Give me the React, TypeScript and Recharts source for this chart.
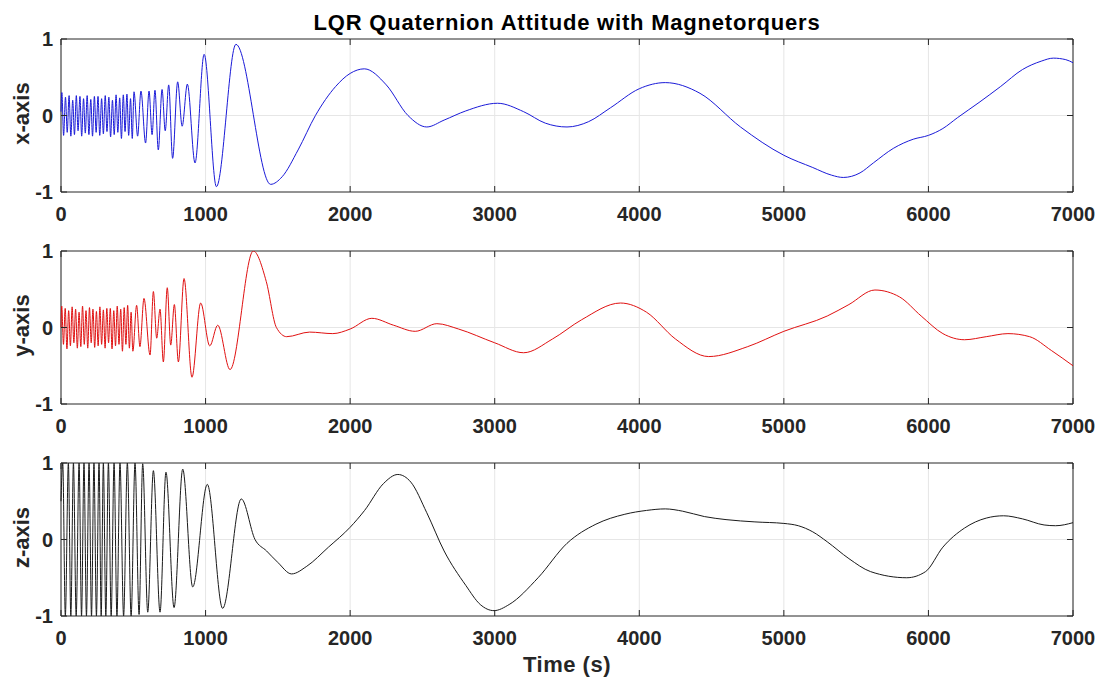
import React from "react";
import {
  LineChart,
  Line,
  XAxis,
  YAxis,
  CartesianGrid,
  ReferenceArea,
} from "recharts";

// time axis ticks (s) and quaternion component ticks
const timeTicks = [0, 1000, 2000, 3000, 4000, 5000, 6000, 7000];
const levelTicks = [-1, 0, 1];

// [time (s), value] turning points of each quaternion component
const qxPoints: [number, number][] = [
  [0, 0.05], [6, 0.3], [18, -0.26], [31, 0.24], [43, -0.22], [56, 0.26],
  [68, -0.27], [81, 0.2], [93, -0.25], [106, 0.26], [118, -0.2], [131, 0.25],
  [143, -0.27], [156, 0.22], [168, -0.23], [181, 0.26], [193, -0.25], [206, 0.21],
  [218, -0.27], [231, 0.25], [243, -0.22], [256, 0.25], [268, -0.26], [281, 0.22],
  [293, -0.24], [306, 0.26], [318, -0.21], [331, 0.24], [343, -0.28], [356, 0.2],
  [368, -0.25], [381, 0.27], [393, -0.22], [406, 0.23], [418, -0.3], [431, 0.27],
  [443, -0.21], [456, 0.28], [468, -0.26], [481, 0.22], [493, -0.3], [505, 0.31],
  [530, -0.27], [553, 0.32], [585, -0.36], [609, 0.32], [630, -0.25], [650, 0.33],
  [673, -0.45], [699, 0.34], [721, -0.2], [745, 0.4], [772, -0.56], [807, 0.44],
  [838, -0.14], [874, 0.41], [927, -0.62], [990, 0.8], [1075, -0.93], [1210, 0.93],
  [1450, -0.9], [1530, -0.8], [1640, -0.45], [1760, 0.0], [1900, 0.38], [2000, 0.55],
  [2098, 0.61], [2250, 0.4], [2400, 0.0], [2530, -0.15], [2650, -0.06], [2800, 0.06],
  [3020, 0.16], [3200, 0.05], [3350, -0.1], [3500, -0.15], [3650, -0.08], [3800, 0.1],
  [4000, 0.35], [4180, 0.43], [4420, 0.29], [4700, -0.15], [5000, -0.52], [5200, -0.68],
  [5330, -0.78], [5411, -0.81], [5527, -0.75], [5619, -0.62], [5757, -0.43], [5895, -0.31],
  [6000, -0.26], [6100, -0.17], [6200, -0.03], [6350, 0.17], [6500, 0.38], [6650, 0.6],
  [6780, 0.71], [6864, 0.75], [6950, 0.73], [7000, 0.69],
];

const qyPoints: [number, number][] = [
  [0, 0.0], [5, 0.28], [17, -0.22], [29, 0.25], [41, -0.28], [53, 0.22],
  [65, -0.24], [77, 0.27], [89, -0.2], [101, 0.24], [113, -0.27], [125, 0.2],
  [137, -0.25], [149, 0.28], [161, -0.22], [173, 0.22], [185, -0.27], [197, 0.26],
  [209, -0.2], [221, 0.24], [233, -0.26], [245, 0.21], [257, -0.24], [269, 0.27],
  [281, -0.22], [293, 0.23], [305, -0.27], [317, 0.25], [329, -0.2], [341, 0.25],
  [353, -0.28], [365, 0.22], [377, -0.24], [389, 0.28], [401, -0.22], [413, 0.24],
  [425, -0.31], [437, 0.26], [449, -0.22], [461, 0.29], [473, -0.27], [485, 0.2],
  [497, -0.31], [523, 0.29], [546, -0.25], [574, 0.38], [616, -0.36], [639, 0.47],
  [662, -0.14], [685, 0.24], [708, -0.45], [735, 0.52], [759, -0.23], [784, 0.3],
  [812, -0.45], [851, 0.64], [906, -0.65], [966, 0.32], [1029, -0.24], [1084, 0.03],
  [1169, -0.55], [1330, 1.0], [1420, 0.6], [1490, 0.0], [1561, -0.12], [1720, -0.06],
  [1880, -0.08], [2000, -0.02], [2150, 0.12], [2300, 0.03], [2450, -0.05], [2600, 0.05],
  [2750, -0.02], [3000, -0.2], [3200, -0.33], [3400, -0.15], [3600, 0.1], [3870, 0.32],
  [4050, 0.2], [4250, -0.15], [4480, -0.38], [4750, -0.25], [5000, -0.05], [5300, 0.15],
  [5450, 0.3], [5630, 0.49], [5800, 0.4], [5950, 0.15], [6100, -0.08], [6250, -0.16],
  [6400, -0.12], [6550, -0.08], [6700, -0.12], [6850, -0.3], [7000, -0.5],
];

const qzPoints: [number, number][] = [
  [0, 0.5], [12, 1.0], [30, -1.0], [51, 1.0], [68, -1.0], [86, 1.0],
  [105, -1.0], [125, 1.0], [142, -1.0], [159, 1.0], [176, -1.0], [194, 1.0],
  [211, -1.0], [228, 1.0], [245, -1.0], [263, 1.0], [278, -1.0], [293, 1.0],
  [310, -1.0], [328, 1.0], [347, -1.0], [367, 1.0], [387, -1.0], [408, 1.0],
  [433, -1.0], [459, 1.0], [485, -1.0], [512, 1.0], [540, -0.98], [565, 0.99],
  [600, -0.95], [639, 0.9], [685, -0.95], [726, 0.88], [782, -0.89], [842, 0.92],
  [911, -0.62], [1012, 0.72], [1118, -0.9], [1247, 0.53], [1342, 0.0], [1422, -0.15],
  [1500, -0.3], [1595, -0.45], [1700, -0.35], [1850, -0.1], [2000, 0.16], [2100, 0.38],
  [2230, 0.73], [2330, 0.85], [2420, 0.75], [2530, 0.35], [2650, -0.15], [2800, -0.6],
  [2900, -0.85], [2995, -0.93], [3100, -0.85], [3300, -0.5], [3500, -0.05], [3700, 0.2],
  [3900, 0.33], [4050, 0.38], [4180, 0.4], [4300, 0.37], [4450, 0.3], [4600, 0.26],
  [4800, 0.23], [5000, 0.21], [5100, 0.18], [5200, 0.1], [5300, -0.03], [5450, -0.25],
  [5600, -0.42], [5850, -0.5], [5980, -0.42], [6100, -0.1], [6250, 0.15], [6400, 0.28],
  [6520, 0.31], [6650, 0.27], [6800, 0.19], [6880, 0.18], [7000, 0.22],
];

const W = 1106;
const H = 683;
const PLOT_LEFT = 61;
const PLOT_RIGHT = 1073;
const PLOT_H = 153;
const PAD_TOP = 10;
const CHART_H = 230;
const X_AXIS_H = 30;
const Y_AXIS_W = 50;
const INK = "#262626";
const FONT = "'Liberation Sans', Arial, Helvetica, sans-serif";

const toRows = (pts: [number, number][]) => pts.map(([t, v]) => ({ t, v }));

interface PanelProps {
  top: number;
  points: [number, number][];
  color: string;
}

function Panel({ top, points, color }: PanelProps) {
  const bottom = PAD_TOP + PLOT_H;

  const renderXTick = (props: any) => {
    const { x, payload } = props;
    return (
      <g>
        <line x1={x} x2={x} y1={bottom} y2={bottom - 6} stroke={INK} />
        <line x1={x} x2={x} y1={PAD_TOP} y2={PAD_TOP + 6} stroke={INK} />
        <text
          x={x}
          y={bottom + 29}
          textAnchor="middle"
          fill={INK}
          fontSize={20}
          fontWeight="bold"
          fontFamily={FONT}
        >
          {payload.value}
        </text>
      </g>
    );
  };

  const renderYTick = (props: any) => {
    const { y, payload } = props;
    return (
      <g>
        <line x1={PLOT_LEFT} x2={PLOT_LEFT + 6} y1={y} y2={y} stroke={INK} />
        <line x1={PLOT_RIGHT} x2={PLOT_RIGHT - 6} y1={y} y2={y} stroke={INK} />
        <text
          x={PLOT_LEFT - 8}
          y={y + 7}
          textAnchor="end"
          fill={INK}
          fontSize={20}
          fontWeight="bold"
          fontFamily={FONT}
        >
          {payload.value}
        </text>
      </g>
    );
  };

  return (
    <div style={{ position: "absolute", left: 0, top: top - PAD_TOP }}>
      <LineChart
        width={W}
        height={CHART_H}
        data={toRows(points)}
        margin={{
          top: PAD_TOP,
          right: W - PLOT_RIGHT,
          bottom: CHART_H - PAD_TOP - PLOT_H - X_AXIS_H,
          left: PLOT_LEFT - Y_AXIS_W,
        }}
      >
        <CartesianGrid
          stroke="#e6e6e6"
          horizontalValues={[0]}
          verticalValues={timeTicks}
        />
        <XAxis
          type="number"
          dataKey="t"
          domain={[0, 7000]}
          ticks={timeTicks}
          interval={0}
          height={X_AXIS_H}
          axisLine={false}
          tickLine={false}
          tick={renderXTick}
        />
        <YAxis
          type="number"
          domain={[-1, 1]}
          ticks={levelTicks}
          interval={0}
          width={Y_AXIS_W}
          axisLine={false}
          tickLine={false}
          tick={renderYTick}
          allowDataOverflow
        />
        <ReferenceArea
          x1={0}
          x2={7000}
          y1={-1}
          y2={1}
          fill="none"
          stroke={INK}
          strokeWidth={1}
          ifOverflow="visible"
        />
        <Line
          type="monotone"
          dataKey="v"
          stroke={color}
          strokeWidth={1}
          dot={false}
          isAnimationActive={false}
        />
      </LineChart>
    </div>
  );
}

const panels = [
  { top: 39, label: "x-axis", points: qxPoints, color: "#1a1ad8" },
  { top: 251, label: "y-axis", points: qyPoints, color: "#e01010" },
  { top: 463, label: "z-axis", points: qzPoints, color: "#1a1a1a" },
];

export default function App() {
  return (
    <div
      style={{
        position: "absolute",
        left: 0,
        top: 0,
        width: W,
        height: H,
        background: "#fff",
        overflow: "hidden",
      }}
    >
      {panels.map((p) => (
        <Panel key={p.label} top={p.top} points={p.points} color={p.color} />
      ))}
      <svg
        width={W}
        height={H}
        style={{ position: "absolute", left: 0, top: 0, pointerEvents: "none" }}
      >
        <text
          x={(PLOT_LEFT + PLOT_RIGHT) / 2}
          y={30}
          textAnchor="middle"
          fill="#000"
          fontSize={22}
          fontWeight="bold"
          letterSpacing={0.8}
          fontFamily={FONT}
        >
          LQR Quaternion Attitude with Magnetorquers
        </text>
        {panels.map((p) => {
          const cy = p.top + PLOT_H / 2 - 2;
          return (
            <text
              key={p.label}
              x={29}
              y={cy}
              transform={`rotate(-90 29 ${cy})`}
              textAnchor="middle"
              fill={INK}
              fontSize={22}
              fontWeight="bold"
              fontFamily={FONT}
            >
              {p.label}
            </text>
          );
        })}
        <text
          x={(PLOT_LEFT + PLOT_RIGHT) / 2}
          y={672}
          textAnchor="middle"
          fill={INK}
          fontSize={22}
          fontWeight="bold"
          letterSpacing={0.5}
          fontFamily={FONT}
        >
          Time (s)
        </text>
      </svg>
    </div>
  );
}
